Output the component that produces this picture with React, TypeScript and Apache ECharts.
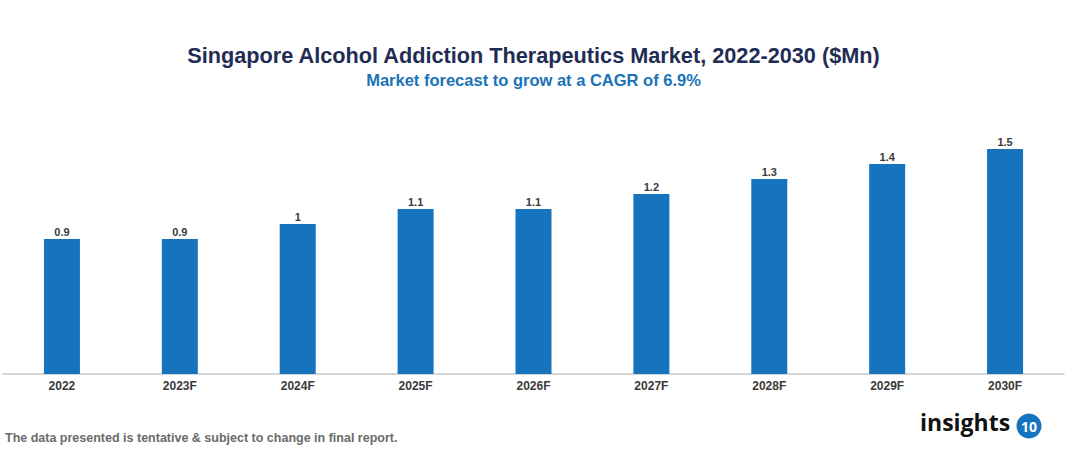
import React, { useEffect, useRef } from "react";
import * as echarts from "echarts";

const categories = ["2022", "2023F", "2024F", "2025F", "2026F", "2027F", "2028F", "2029F", "2030F"];
const values = [0.9, 0.9, 1, 1.1, 1.1, 1.2, 1.3, 1.4, 1.5];
const titleText = "Singapore Alcohol Addiction Therapeutics Market, 2022-2030 ($Mn)";
const subtitleText = "Market forecast to grow at a CAGR of 6.9%";
const footnoteText = "The data presented is tentative & subject to change in final report.";

export default function App() {
  const ref = useRef<HTMLDivElement>(null);
  useEffect(() => {
    document.body.style.margin = "0";
    const chart = echarts.init(ref.current!, null, { renderer: "svg" });
    chart.setOption({
      animation: false,
      backgroundColor: "#ffffff",
      title: [
        {
          text: titleText,
          left: "center",
          top: 39,
          textStyle: { fontFamily: "Liberation Sans, Arial, sans-serif", fontWeight: "bold", fontSize: 21.7, color: "#1f2d54" },
        },
        {
          text: subtitleText,
          left: "center",
          top: 66,
          textStyle: { fontFamily: "Liberation Sans, Arial, sans-serif", fontWeight: "bold", fontSize: 16.5, color: "#1a73b8" },
        },
      ],
      grid: { left: 3, right: 3, top: 149, bottom: 80, containLabel: false },
      xAxis: {
        type: "category",
        data: categories,
        axisLine: { show: true, lineStyle: { color: "#c8c8c8", width: 1.5 } },
        axisTick: { show: false },
        axisLabel: {
          margin: 6,
          fontFamily: "Liberation Sans, Arial, sans-serif",
          fontWeight: "bold",
          fontSize: 12,
          color: "#3a3a3a",
        },
      },
      yAxis: {
        type: "value",
        min: 0,
        max: 1.5,
        show: false,
        splitLine: { show: false },
      },
      series: [
        {
          type: "bar",
          data: values,
          barWidth: 36,
          itemStyle: { color: "#1674bf" },
          label: {
            show: true,
            position: "top",
            distance: 2,
            fontFamily: "Liberation Sans, Arial, sans-serif",
            fontWeight: "bold",
            fontSize: 11,
            color: "#3a3a3a",
          },
        },
      ],
      graphic: [
        {
          type: "text",
          left: 5,
          top: 431,
          style: {
            text: footnoteText,
            font: "bold 12.5px 'Liberation Sans', Arial, sans-serif",
            fill: "#6b6b6b",
          },
        },
        {
          type: "text",
          left: 920,
          top: 410,
          style: {
            text: "insights",
            font: "bold 23px 'Open Sans', 'Liberation Sans', sans-serif",
            fill: "#111111",
          },
        },
        {
          type: "circle",
          shape: { cx: 1029, cy: 426, r: 12.5 },
          style: { fill: "#1674bf" },
        },
        {
          type: "text",
          x: 1029,
          y: 426,
          style: {
            text: "10",
            font: "bold 14px 'Open Sans', 'Liberation Sans', sans-serif",
            fill: "#ffffff",
            textAlign: "center",
            textVerticalAlign: "middle",
          },
        },
      ],
    });
    return () => chart.dispose();
  }, []);
  return <div ref={ref} style={{ width: 1067, height: 454, position: "absolute", left: 0, top: 0 }} />;
}
